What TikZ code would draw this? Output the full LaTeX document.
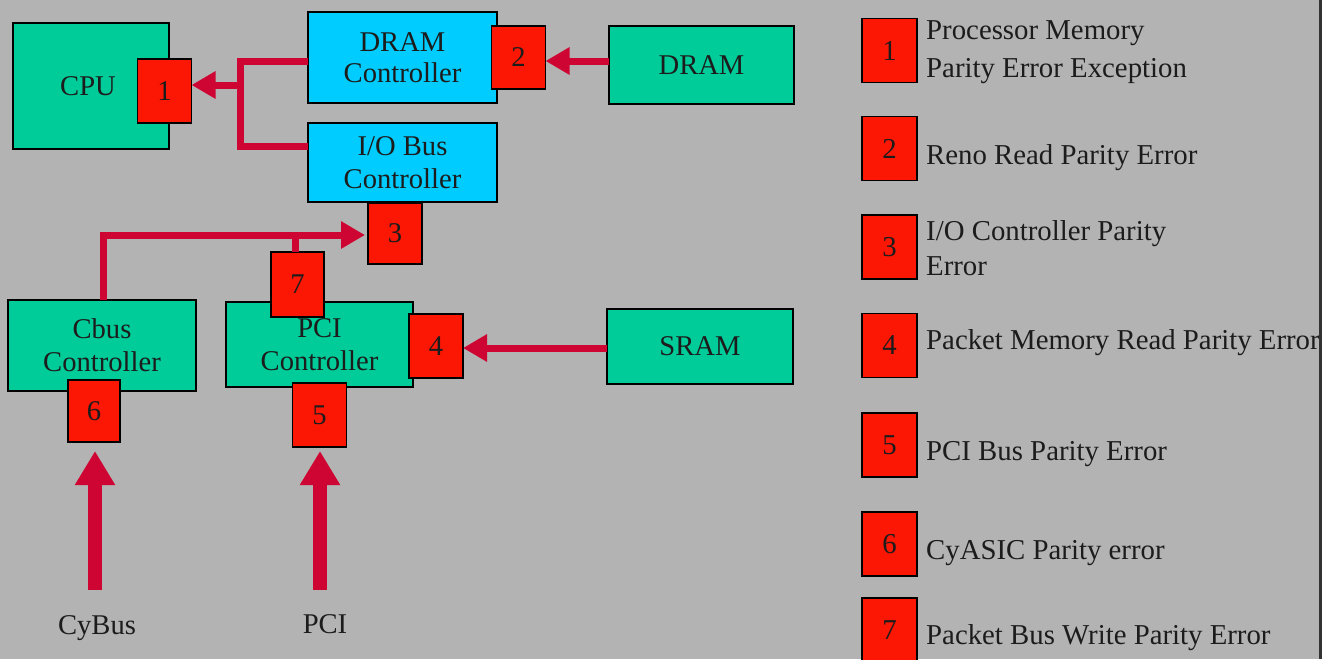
\documentclass[tikz,border=0pt]{standalone}
\usepackage{fontspec}
\setmainfont{Liberation Serif}
\usetikzlibrary{arrows.meta}

\definecolor{panelgray}{RGB}{179,179,179}
\definecolor{boxgreen}{RGB}{0,204,153}
\definecolor{boxcyan}{RGB}{0,204,255}
\definecolor{tagred}{RGB}{252,22,4}
\definecolor{wirered}{RGB}{206,4,50}
\definecolor{inkgray}{RGB}{28,28,28}
\definecolor{edgegray}{RGB}{50,50,50}

\newcommand{\diagfont}{\fontsize{28.6}{33}\selectfont}
\newcommand{\legendfont}{\fontsize{28.8}{37}\selectfont}

\tikzset{
  block/.style={draw=black, line width=1.6pt, inner sep=0pt, outer sep=0pt,
                align=center, font=\diagfont, text=inkgray},
  greenblock/.style={block, fill=boxgreen},
  cyanblock/.style={block, fill=boxcyan},
  tag/.style={block, fill=tagred, minimum width=54pt, minimum height=64pt},
  wire/.style={draw=wirered, line width=7pt},
  wirearrow/.style={wire, -{Triangle[length=24pt,width=26pt]}},
  feedarrow/.style={draw=wirered, line width=14pt, -{Triangle[length=34pt,width=38pt]}},
  legendtext/.style={anchor=west, align=left, inner sep=0pt, font=\legendfont, text=inkgray},
  caption/.style={inner sep=0pt, font=\diagfont, text=inkgray}
}

\begin{document}
\begin{tikzpicture}[x=1pt, y=-1pt]
  % canvas
  \useasboundingbox (0,0) rectangle (1337,659);
  \fill[panelgray] (0,0) rectangle (1337,659);

  % functional blocks
  \node[greenblock, minimum width=156pt, minimum height=126pt] (cpu) at (91,86) {CPU\hspace*{6pt}};
  \node[cyanblock, minimum width=189pt, minimum height=91pt] (dramctl) at (402.5,57.5) {\raisebox{-2pt}{DRAM}\\Controller};
  \node[cyanblock, minimum width=189pt, minimum height=79pt] (ioctl) at (402.5,162.5) {I/O Bus\\Controller};
  \node[greenblock, minimum width=185pt, minimum height=78pt] (dram) at (701.5,65) {\raisebox{-2pt}{DRAM}};
  \node[greenblock, minimum width=188pt, minimum height=91pt] (cbus) at (102,345.5) {Cbus\\Controller};
  \node[greenblock, minimum width=187pt, minimum height=85pt] (pcictl) at (319.5,344.5) {PCI\\Controller};
  \node[greenblock, minimum width=186pt, minimum height=75pt] (sram) at (700,346.5) {SRAM};

  % error tags on the blocks
  \node[tag] (t1) at (164.5,91) {1};
  \node[tag, minimum height=63pt] (t2) at (518.5,57.5) {2};
  \node[tag, minimum height=61pt] (t3) at (395,233.5) {3};
  \node[tag] (t4) at (436,346) {4};
  \node[tag] (t5) at (319.5,415) {5};
  \node[tag, minimum width=52pt, minimum height=62pt] (t6) at (94,411) {6};
  \node[tag, minimum width=53pt, minimum height=65pt] (t7) at (297.5,284.5) {7};

  % processor bus: both controllers report to the CPU
  \coordinate (pbtop) at (240,61);
  \coordinate (pbbot) at (240,146);
  \coordinate (pbmid) at (240,85);
  \draw[wire] (dramctl.west |- pbtop) -- (pbtop) -- (pbbot) -- (ioctl.west |- pbbot);
  \draw[wirearrow] (pbmid) -- (t1.east |- pbmid);

  % DRAM into the DRAM controller
  \draw[wirearrow] ([yshift=4pt]dram.west) -- ([yshift=4pt]dram.west -| t2.east);

  % packet bus towards the I/O controller
  \coordinate (pkbus) at (103,235);
  \draw[wirearrow, shorten >=3pt] (pkbus |- cbus.north) -- (pkbus) -- (t3.west |- pkbus);
  \draw[wire] ([xshift=-2.5pt]t7.north) -- ([xshift=-2.5pt]t7.north |- pkbus);

  % SRAM into the PCI controller
  \draw[wirearrow] ([yshift=-1.5pt]sram.west) -- ([yshift=-1.5pt]sram.west -| t4.east);

  % external buses
  \node[caption] (cybus) at (97,628) {CyBus};
  \node[caption] (pcibus) at (325,624) {PCI};
  \coordinate (cyfoot) at (95,590);
  \coordinate (pcifoot) at (320,590);
  \draw[feedarrow, shorten >=9pt] (cyfoot) -- (cyfoot |- t6.south);
  \draw[feedarrow, shorten >=4pt] (pcifoot) -- (pcifoot |- t5.south);

  % legend
  \foreach \n/\y in {1/50.5, 2/148.5, 3/247, 4/345.5, 5/445, 6/544, 7/630} {
    \node[tag, minimum width=55pt, font=\legendfont] (key\n) at (889.5,\y) {\n};
  }
  \node[legendtext, font=\fontsize{28.8}{38}\selectfont] (lab1) at (926,52) {Processor Memory\\Parity Error Exception};
  \node[legendtext] (lab2) at (926,158) {Reno Read Parity Error};
  \node[legendtext, font=\fontsize{28.8}{35}\selectfont] (lab3) at (926,248) {I/O Controller Parity\\Error};
  \node[legendtext] (lab4) at (926,343) {Packet Memory Read Parity Error};
  \node[legendtext] (lab5) at (926,454) {PCI Bus Parity Error};
  \node[legendtext] (lab6) at (926,553) {CyASIC Parity error};
  \node[legendtext] (lab7) at (926,638) {Packet Bus Write Parity Error};

  % right margin of the panel
  \fill[white] (1321,0) rectangle (1337,659);
  \draw[edgegray, line width=3pt] (1320.5,0) -- (1320.5,659);
\end{tikzpicture}
\end{document}
